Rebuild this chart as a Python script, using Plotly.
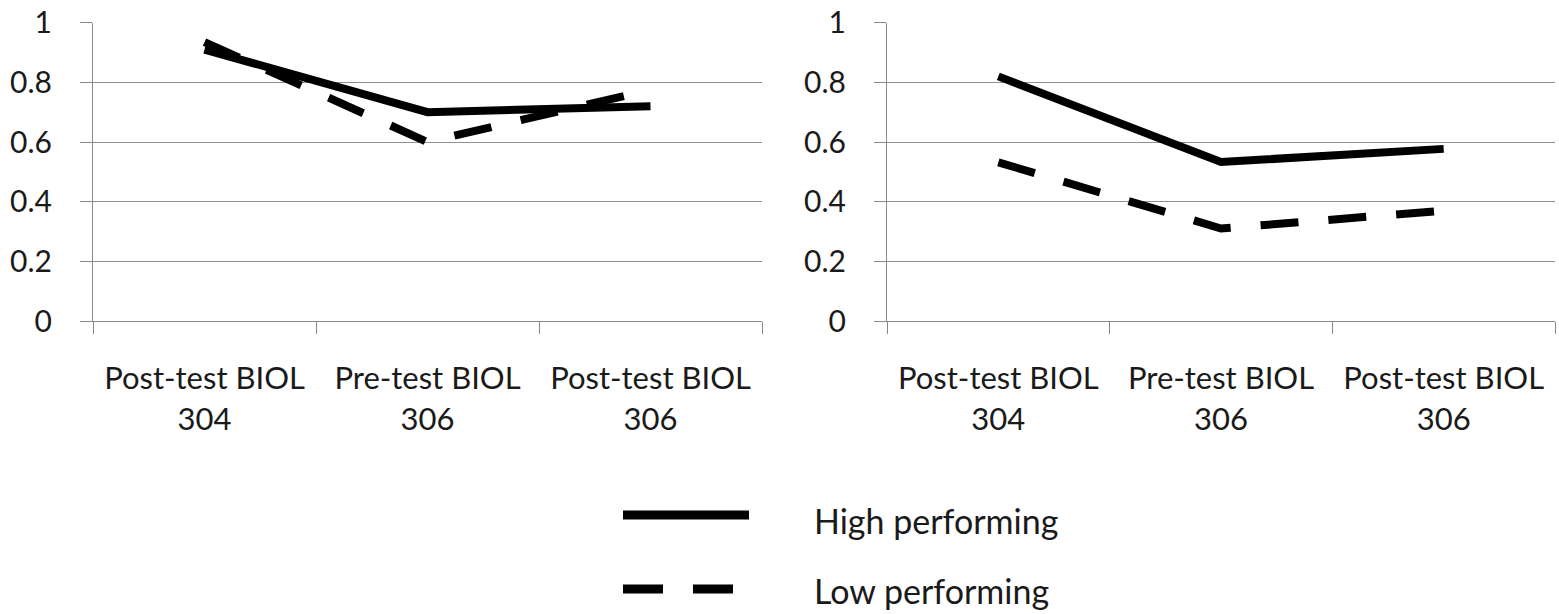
import plotly.graph_objects as go

categories = ["Post-test BIOL<br>304", "Pre-test BIOL<br>306", "Post-test BIOL<br>306"]
left_high = [0.91, 0.70, 0.72]
left_low = [0.935, 0.60, 0.775]
right_high = [0.82, 0.533, 0.577]
right_low = [0.532, 0.31, 0.37]
y_ticks = [0, 0.2, 0.4, 0.6, 0.8, 1]
y_tick_labels = ["0", "0.2", "0.4", "0.6", "0.8", "1"]
legend_labels = ["High performing", "Low performing"]

FONT = "Lato"
W, H = 1559, 614
LW = 8
DASH = "38px,30px"

fig = go.Figure()
fig.add_trace(go.Scatter(x=categories, y=left_high, mode="lines", line=dict(color="black", width=LW),
                         xaxis="x", yaxis="y", showlegend=False, name=legend_labels[0]))
fig.add_trace(go.Scatter(x=categories, y=left_low, mode="lines", line=dict(color="black", width=LW, dash=DASH),
                         xaxis="x", yaxis="y", showlegend=False, name=legend_labels[1]))
fig.add_trace(go.Scatter(x=categories, y=right_high, mode="lines", line=dict(color="black", width=LW),
                         xaxis="x2", yaxis="y2", showlegend=False, name=legend_labels[0]))
fig.add_trace(go.Scatter(x=categories, y=right_low, mode="lines", line=dict(color="black", width=LW, dash=DASH),
                         xaxis="x2", yaxis="y2", showlegend=False, name=legend_labels[1]))

ydom = [1 - 321 / H, 1 - 22.7 / H]
xcommon = dict(type="category", range=[-0.5, 2.5], tickson="boundaries", ticks="outside", ticklen=12,
               tickcolor="#888", tickwidth=1, showgrid=False, showline=True, linecolor="#888", linewidth=1,
               tickfont=dict(family=FONT, size=31, color="#1a1a1a"), ticklabelstandoff=30, zeroline=False,
               fixedrange=True, automargin=False)
ycommon = dict(range=[0, 1], tickvals=y_ticks, ticktext=y_tick_labels, ticks="outside", ticklen=12,
               tickcolor="#888", tickwidth=1, showgrid=True, gridcolor="#8f8f8f", gridwidth=1,
               showline=True, linecolor="#888", linewidth=1, zeroline=False,
               tickfont=dict(family=FONT, size=30, color="#1a1a1a"), ticklabelstandoff=22, fixedrange=True,
               automargin=False)

fig.update_layout(
    width=W, height=H,
    margin=dict(l=0, r=0, t=0, b=0, pad=0),
    paper_bgcolor="white", plot_bgcolor="white",
    xaxis=dict(domain=[93 / W, 762 / W], anchor="y", **xcommon),
    yaxis=dict(domain=ydom, anchor="x", **ycommon),
    xaxis2=dict(domain=[887 / W, 1555 / W], anchor="y2", **xcommon),
    yaxis2=dict(domain=ydom, anchor="x2", **ycommon),
    showlegend=False,
)

# legend drawn manually
fig.add_shape(type="line", xref="paper", yref="paper", x0=623 / W, x1=749 / W, y0=1 - 515 / H, y1=1 - 515 / H,
              line=dict(color="black", width=9))
fig.add_shape(type="line", xref="paper", yref="paper", x0=623 / W, x1=733 / W, y0=1 - 589 / H, y1=1 - 589 / H,
              line=dict(color="black", width=9, dash="40px,30px"))
fig.add_annotation(xref="paper", yref="paper", x=812 / W, y=1 - 520 / H, text=legend_labels[0], showarrow=False,
                   xanchor="left", yanchor="middle", font=dict(family=FONT, size=34, color="#1a1a1a"))
fig.add_annotation(xref="paper", yref="paper", x=812 / W, y=1 - 590 / H, text=legend_labels[1], showarrow=False,
                   xanchor="left", yanchor="middle", font=dict(family=FONT, size=34, color="#1a1a1a"))

fig.write_html("out.html", config={"displayModeBar": False},
               post_script="document.body.style.margin='0';document.body.style.overflow='hidden';")
